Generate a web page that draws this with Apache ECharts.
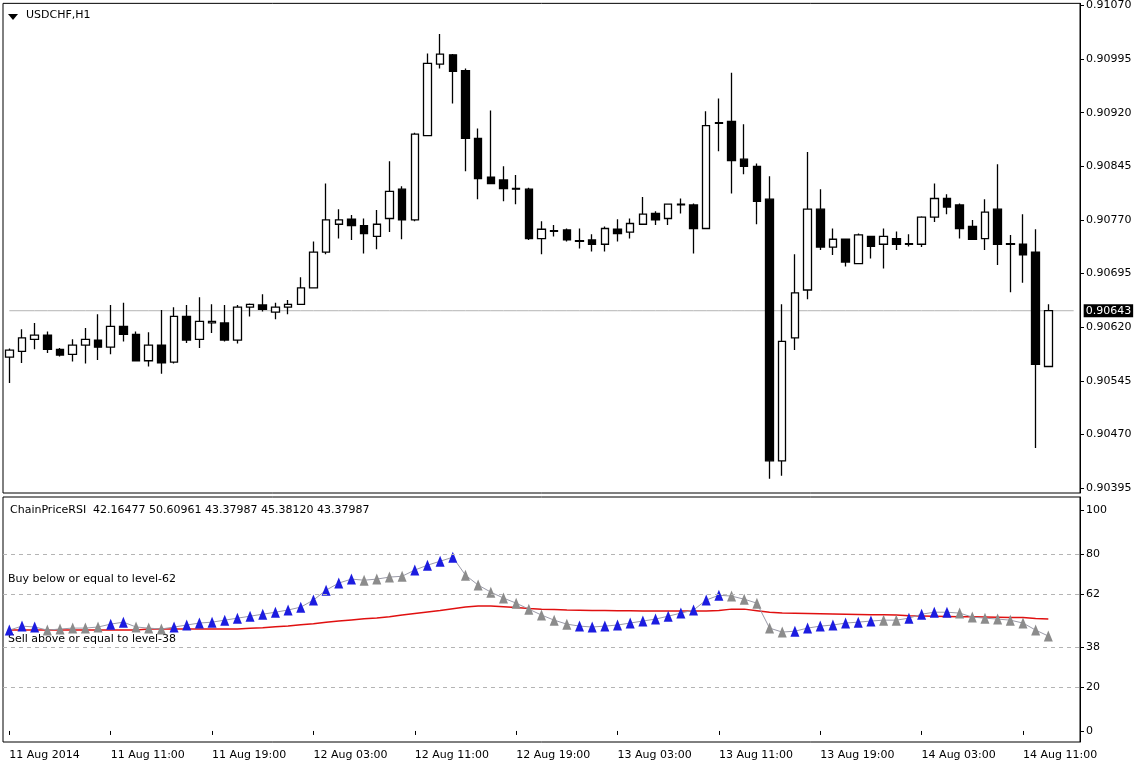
<!DOCTYPE html>
<html><head><meta charset="utf-8">
<script src="https://cdn.jsdelivr.net/npm/echarts@6/dist/echarts.min.js"></script>
<style>html,body{margin:0;padding:0;background:#fff}#c{width:1143px;height:770px}</style>
</head><body><div id="c"></div>
<script>
// Candles: [open, close, low, high]
const opens  = [0.90578,0.90586,0.90603,0.90609,0.90589,0.90582,0.90595,0.90602,0.90592,0.90621,0.90610,0.90573,0.90595,0.90571,0.90635,0.90603,0.90626,0.90626,0.90602,0.90648,0.90651,0.90641,0.90648,0.90652,0.90675,0.90725,0.90764,0.90771,0.90762,0.90747,0.90772,0.90813,0.90770,0.90888,0.90988,0.91001,0.90979,0.90884,0.90830,0.90826,0.90814,0.90813,0.90744,0.90755,0.90756,0.90741,0.90742,0.90736,0.90757,0.90753,0.90764,0.90779,0.90772,0.90791,0.90791,0.90758,0.90905,0.90908,0.90855,0.90845,0.90799,0.90433,0.90605,0.90672,0.90785,0.90732,0.90743,0.90709,0.90747,0.90736,0.90744,0.90736,0.90736,0.90774,0.90800,0.90791,0.90761,0.90744,0.90785,0.90737,0.90736,0.90725,0.90565];
const closes = [0.90588,0.90605,0.90609,0.90589,0.90581,0.90595,0.90603,0.90592,0.90621,0.90610,0.90573,0.90595,0.90570,0.90635,0.90602,0.90628,0.90628,0.90602,0.90648,0.90652,0.90645,0.90648,0.90652,0.90675,0.90725,0.90770,0.90770,0.90762,0.90751,0.90764,0.90810,0.90770,0.90890,0.90989,0.91002,0.90978,0.90884,0.90828,0.90821,0.90814,0.90813,0.90744,0.90757,0.90754,0.90742,0.90740,0.90736,0.90758,0.90751,0.90765,0.90778,0.90770,0.90792,0.90792,0.90758,0.90902,0.90906,0.90853,0.90845,0.90796,0.90433,0.90600,0.90668,0.90785,0.90732,0.90743,0.90711,0.90749,0.90733,0.90747,0.90736,0.90737,0.90774,0.90800,0.90788,0.90758,0.90743,0.90781,0.90736,0.90736,0.90721,0.90568,0.90643];
const lows   = [0.90542,0.90570,0.90589,0.90584,0.90579,0.90572,0.90569,0.90574,0.90582,0.90600,0.90573,0.90565,0.90555,0.90569,0.90598,0.90591,0.90612,0.90600,0.90597,0.90635,0.90642,0.90631,0.90638,0.90652,0.90675,0.90722,0.90744,0.90742,0.90723,0.90729,0.90753,0.90743,0.90768,0.90887,0.90982,0.90933,0.90838,0.90799,0.90820,0.90796,0.90792,0.90742,0.90722,0.90747,0.90740,0.90730,0.90726,0.90726,0.90740,0.90744,0.90764,0.90763,0.90763,0.90779,0.90723,0.90757,0.90866,0.90807,0.90834,0.90764,0.90408,0.90412,0.90588,0.90659,0.90728,0.90721,0.90705,0.90708,0.90716,0.90702,0.90728,0.90733,0.90732,0.90767,0.90778,0.90744,0.90743,0.90728,0.90707,0.90669,0.90682,0.90451,0.90565];
const highs  = [0.90590,0.90617,0.90626,0.90614,0.90591,0.90603,0.90619,0.90638,0.90651,0.90654,0.90614,0.90613,0.90644,0.90648,0.90651,0.90662,0.90652,0.90651,0.90651,0.90653,0.90666,0.90654,0.90658,0.90690,0.90740,0.90821,0.90785,0.90777,0.90772,0.90784,0.90852,0.90817,0.90892,0.91003,0.91030,0.91002,0.90982,0.90898,0.90923,0.90845,0.90833,0.90815,0.90768,0.90763,0.90758,0.90758,0.90750,0.90761,0.90771,0.90772,0.90802,0.90782,0.90792,0.90800,0.90793,0.90922,0.90940,0.90976,0.90904,0.90849,0.90831,0.90652,0.90722,0.90865,0.90813,0.90758,0.90743,0.90751,0.90748,0.90758,0.90754,0.90750,0.90775,0.90821,0.90806,0.90793,0.90770,0.90799,0.90848,0.90749,0.90778,0.90757,0.90652];
const currentPrice = 0.90643;
const priceTicks = [0.90395,0.90470,0.90545,0.90620,0.90695,0.90770,0.90845,0.90920,0.90995,0.91070];

// ChainPriceRSI values and chain colour type (B = buy/blue, G = grey)
const rsiValues = [45.7,47.5,47.1,45.7,46.2,46.6,46.6,47.1,48.4,49.3,47.1,46.6,46.2,47.1,48.0,48.9,49.3,50.2,51.1,52.0,52.9,53.8,54.8,56.1,59.3,63.8,67.0,68.8,68.3,68.8,69.7,70.1,72.9,75.1,76.9,78.7,70.6,66.1,62.9,60.2,57.9,55.2,52.5,50.2,48.4,47.5,47.1,47.5,48.0,48.9,49.8,50.7,52.0,53.4,54.8,59.3,61.5,61.1,59.7,57.9,46.6,44.8,45.2,46.6,47.5,48.0,48.9,49.3,49.8,50.2,50.2,51.1,52.9,53.8,53.8,53.4,51.6,51.1,50.7,50.2,48.9,45.7,43.0];
const rsiTypes  = "BBBGGGGGBBGGGBBBBBBBBBBBBBBBGGGGBBBBGGGGGGGGGBBBBBBBBBBBBGGGGGBBBBBBBGGBBBBGGGGGGG";
const maValues  = [45.7,45.7,45.7,45.7,45.7,45.7,45.7,45.7,45.7,45.7,45.7,46.2,46.2,46.2,46.2,46.2,46.2,46.2,46.2,46.5,46.8,47.2,47.6,48.1,48.6,49.3,49.8,50.3,50.8,51.2,51.8,52.5,53.2,53.9,54.6,55.4,56.2,56.6,56.6,56.3,55.9,55.5,55.2,55.0,54.8,54.7,54.6,54.6,54.5,54.5,54.4,54.4,54.3,54.3,54.3,54.3,54.6,55.2,55.2,54.5,53.8,53.4,53.3,53.2,53.1,53.0,52.9,52.8,52.7,52.6,52.5,52.2,52.1,52.0,51.9,51.8,51.7,51.6,51.5,51.4,51.4,51.0,50.7];
const rsiLevels = [0,20,38,62,80,100];
const rsiHeader = "ChainPriceRSI  42.16477 50.60961 43.37987 45.38120 43.37987";
const timeLabels = ["11 Aug 2014","11 Aug 11:00","11 Aug 19:00","12 Aug 03:00","12 Aug 11:00","12 Aug 19:00","13 Aug 03:00","13 Aug 11:00","13 Aug 19:00","14 Aug 03:00","14 Aug 11:00"];

const N = 85;
const cats = Array.from({length:N},(_,i)=>i);
const candles = opens.map((o,i)=>[o,closes[i],lows[i],highs[i]]);
const rsiPts = rsiValues.map((v,i)=>({value:v,itemStyle:{color: rsiTypes[i]==='B' ? '#1c1ce0' : '#8c8c8c'}}));
const font = {fontFamily:'DejaVu Sans', fontSize:11, color:'#000'};
const priceLine = cats.map(()=>currentPrice);

const chart = echarts.init(document.getElementById('c'));
chart.setOption({
  animation:false,
  backgroundColor:'#fff',
  grid:[
    {left:3, right:63, top:3, height:490, show:true, borderColor:'#000', borderWidth:1},
    {left:3, right:63, top:497, height:245, show:true, borderColor:'#000', borderWidth:1}
  ],
  xAxis:[
    {type:'category', gridIndex:0, data:cats, boundaryGap:true, axisLine:{show:false}, axisTick:{show:false}, axisLabel:{show:false}, splitLine:{show:false}},
    {type:'category', gridIndex:1, data:cats, boundaryGap:true, axisLine:{show:false},
     axisTick:{show:true, interval:7, length:4, alignWithLabel:true, lineStyle:{color:'#000'}},
     axisLabel:{...font, interval:7, align:'left', margin:8,
       formatter:(v,i)=> timeLabels[Math.round(i/8)] || ''}, splitLine:{show:false}}
  ],
  yAxis:[
    {type:'value', gridIndex:0, position:'right', min:0.90388, max:0.91073,
     axisLine:{show:true, lineStyle:{color:'#000'}},
     axisTick:{show:true, length:4, customValues:priceTicks, lineStyle:{color:'#000'}},
     axisLabel:{...font, margin:6, customValues:priceTicks, formatter:v=>v.toFixed(5)},
     splitLine:{show:false}},
    {type:'value', gridIndex:1, position:'right', min:-5, max:106,
     axisLine:{show:true, lineStyle:{color:'#000'}},
     axisTick:{show:true, length:4, customValues:rsiLevels, lineStyle:{color:'#000'}},
     axisLabel:{...font, margin:6, customValues:rsiLevels},
     splitLine:{show:false}}
  ],
  graphic:[
    {type:'polygon', shape:{points:[[8,14],[18,14],[13,20]]}, style:{fill:'#000'}},
    {type:'text', left:26, top:10, style:{text:'USDCHF,H1', font:'11px "DejaVu Sans"', fill:'#000'}},
    {type:'text', left:10, top:505, style:{text:rsiHeader, font:'11px "DejaVu Sans"', fill:'#000'}},
    {type:'text', left:8, top:574, style:{text:'Buy below or equal to level-62', font:'11px "DejaVu Sans"', fill:'#000'}},
    {type:'text', left:8, top:634, style:{text:'Sell above or equal to level-38', font:'11px "DejaVu Sans"', fill:'#000'}}
  ],
  series:[
    {type:'line', xAxisIndex:0, yAxisIndex:0, data:priceLine, symbol:'none', silent:true, z:1,
     lineStyle:{color:'#b4b4b4', width:1},
     endLabel:{show:true, formatter:()=>currentPrice.toFixed(5), backgroundColor:'#000', color:'#fff', fontFamily:'DejaVu Sans', fontSize:11, padding:[1,2], distance:10}},
    {type:'candlestick', xAxisIndex:0, yAxisIndex:0, data:candles, barWidth:8, z:3,
     itemStyle:{color:'#fff', color0:'#000', borderColor:'#000', borderColor0:'#000', borderWidth:1.3}},
    {type:'line', xAxisIndex:1, yAxisIndex:1, data:maValues, symbol:'none', lineStyle:{color:'#e01010', width:1.5}, z:2,
     markLine:{symbol:'none', silent:true, lineStyle:{color:'#b4b4b4', type:[4,4], width:1}, label:{show:false},
       data:[{yAxis:20},{yAxis:38},{yAxis:62},{yAxis:80}]}},
    {type:'line', xAxisIndex:1, yAxisIndex:1, data:rsiPts, symbol:'triangle', symbolSize:[9,11], showAllSymbol:true,
     lineStyle:{color:'#9a9aa8', width:1}, z:3}
  ]
});
</script></body></html>
